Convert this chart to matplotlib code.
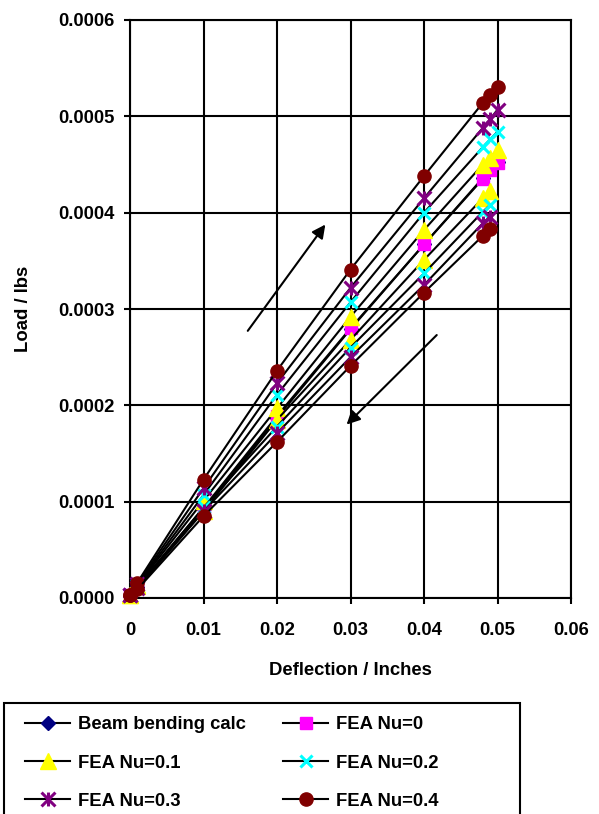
import matplotlib
matplotlib.use("Agg")
import matplotlib.pyplot as plt
from matplotlib.path import Path
from matplotlib.lines import Line2D
from matplotlib.patches import Rectangle

plt.rcParams['font.family'] = ['Liberation Sans', 'DejaVu Sans']
plt.rcParams['font.weight'] = 'bold'

# ---- data ----
x_up = [0.0, 0.001, 0.01, 0.02, 0.03, 0.04, 0.048, 0.049, 0.050]
x_down = [0.0, 0.001, 0.01, 0.02, 0.03, 0.04, 0.048, 0.049]

beam_y = [0.000002, 0.000011, 0.0000925, 0.000187, 0.000279, 0.000367, 0.000436, 0.000445, 0.000453]
nu0_y = [0.000003, 0.000012, 0.0000935, 0.000189, 0.000280, 0.000367, 0.000435, 0.000444, 0.000452]
nu01_up = [0.000003, 0.000013, 0.000101, 0.000197, 0.000292, 0.000382, 0.000450, 0.000457, 0.000465]
nu01_down = [0.000003, 0.000012, 0.000090, 0.000185, 0.000268, 0.000351, 0.000415, 0.000422]
nu02_up = [0.000003, 0.000014, 0.000107, 0.000211, 0.000307, 0.000400, 0.000468, 0.000476, 0.000484]
nu02_down = [0.000003, 0.000011, 0.000094, 0.000178, 0.000260, 0.000337, 0.000401, 0.000408]
nu03_up = [0.000003, 0.000015, 0.000114, 0.000223, 0.000322, 0.000415, 0.000488, 0.000497, 0.000507]
nu03_down = [0.000003, 0.000010, 0.000090, 0.000171, 0.000250, 0.000325, 0.000389, 0.000396]
nu04_up = [0.000003, 0.000016, 0.000123, 0.000236, 0.000341, 0.000438, 0.000514, 0.000522, 0.000530]
nu04_down = [0.000003, 0.000009, 0.000085, 0.000162, 0.000241, 0.000317, 0.000376, 0.000383]

labels = ["Beam bending calc", "FEA Nu=0", "FEA Nu=0.1", "FEA Nu=0.2", "FEA Nu=0.3", "FEA Nu=0.4"]
x_ticks = [0, 0.01, 0.02, 0.03, 0.04, 0.05, 0.06]
x_tick_labels = ["0", "0.01", "0.02", "0.03", "0.04", "0.05", "0.06"]
y_ticks = [0, 0.0001, 0.0002, 0.0003, 0.0004, 0.0005, 0.0006]
y_tick_labels = ["0.0000", "0.0001", "0.0002", "0.0003", "0.0004", "0.0005", "0.0006"]

star = Path([(-1, -1), (1, 1), (-1, 1), (1, -1), (0, -1), (0, 1)],
            [Path.MOVETO, Path.LINETO, Path.MOVETO, Path.LINETO, Path.MOVETO, Path.LINETO])

styles = [
    dict(marker='D', color='#000080', ms=7.5, mew=1),
    dict(marker='s', color='#FF00FF', ms=8.5, mew=1),
    dict(marker='^', color='#FFFF00', ms=11, mew=1),
    dict(marker='x', color='#00FFFF', ms=9, mew=2.2),
    dict(marker=star, color='#800080', ms=10, mew=2.2),
    dict(marker='o', color='#800000', ms=9.5, mew=1),
]

series = [
    [(x_up, beam_y)],
    [(x_up, nu0_y)],
    [(x_up, nu01_up), (x_down, nu01_down)],
    [(x_up, nu02_up), (x_down, nu02_down)],
    [(x_up, nu03_up), (x_down, nu03_down)],
    [(x_up, nu04_up), (x_down, nu04_down)],
]

W, H = 599, 814
fig = plt.figure(figsize=(W / 100, H / 100), dpi=100)
ax = fig.add_axes([130 / W, 1 - 598 / H, (571 - 130) / W, (598 - 20) / H])

handles = []
for st, parts in zip(styles, series):
    for xs, ys in parts:
        ax.plot(xs, ys, color='black', lw=1.5, marker=st['marker'], ms=st['ms'],
                mfc=st['color'], mec=st['color'], mew=st['mew'], zorder=3, clip_on=False)
    handles.append(Line2D([], [], color='black', lw=1.5, marker=st['marker'], ms=st['ms'],
                          mfc=st['color'], mec=st['color'], mew=st['mew']))

ax.set_xlim(0, 0.06)
ax.set_ylim(0, 0.0006)
ax.set_xticks(x_ticks)
ax.set_xticklabels(x_tick_labels)
ax.set_yticks(y_ticks)
ax.set_yticklabels(y_tick_labels)
ax.grid(True, color='black', lw=1.5, zorder=0)
ax.set_axisbelow(True)
for sp in ax.spines.values():
    sp.set_linewidth(1.5)
    sp.set_color('black')
ax.tick_params(direction='out', length=4, width=1.5, labelsize=13.3)
ax.tick_params(axis='x', pad=13)
ax.tick_params(axis='y', pad=7)
for lab in ax.get_xticklabels() + ax.get_yticklabels():
    lab.set_fontweight('bold')

ax.set_xlabel("Deflection / Inches", fontsize=13.3, fontweight='bold', labelpad=17)
ax.set_ylabel("Load / lbs", fontsize=13.3, fontweight='bold', labelpad=19)

# arrows
ax.annotate("", xy=(0.0268, 0.000390), xytext=(0.0158, 0.000275),
            arrowprops=dict(arrowstyle='-|>', lw=1.5, color='black', mutation_scale=20))
ax.annotate("", xy=(0.0292, 0.000178), xytext=(0.0420, 0.000275),
            arrowprops=dict(arrowstyle='-|>', lw=1.5, color='black', mutation_scale=20))

# legend box
fig.patches.append(Rectangle((4 / W, -0.01), (520 - 4) / W, (814 - 703) / H + 0.01,
                             transform=fig.transFigure, fill=False, ec='black', lw=1.5))
order = [0, 2, 4, 1, 3, 5]
leg = fig.legend([handles[i] for i in order], [labels[i] for i in order], ncol=2,
                 loc='upper left', bbox_to_anchor=(18 / W, 1 - 709 / H), frameon=False,
                 prop=dict(size=13.3, weight='bold'), handlelength=2.43,
                 handletextpad=0.4, columnspacing=2.05, labelspacing=1.15, borderaxespad=0)

fig.savefig("out.png", dpi=100)
